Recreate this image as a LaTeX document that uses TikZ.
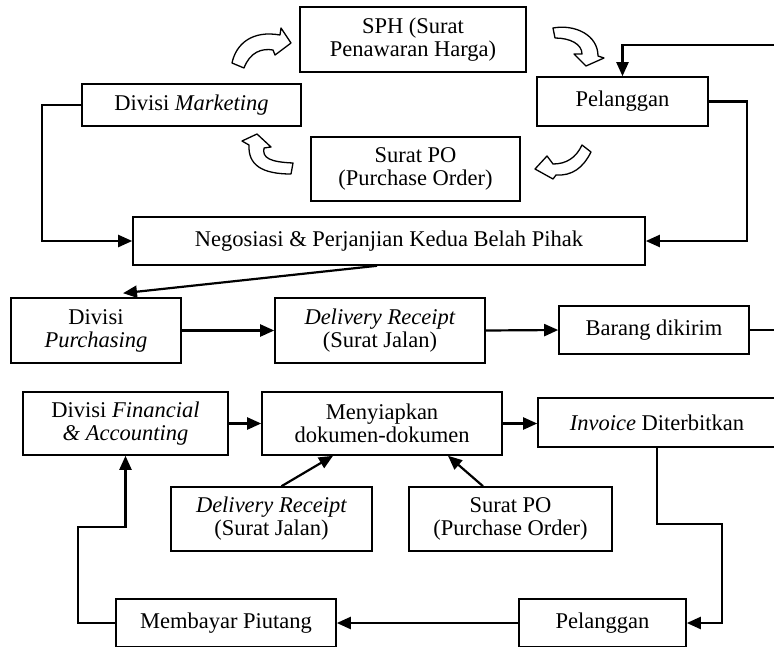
\documentclass[tikz,border=0pt]{standalone}
\usepackage{fontspec}
\setmainfont{Liberation Serif}
\usetikzlibrary{arrows.meta,calc}
\begin{document}
\begin{tikzpicture}[x=1pt,y=-1pt,
  box/.style={draw,line width=1.6pt,inner sep=0pt,align=center,
    font=\fontsize{22.5}{23}\selectfont},
  arr/.style={line width=2.2pt,-{Triangle[length=14pt,width=12pt]}},
  ln/.style={line width=2.2pt},
  blk/.style={draw,fill=white,line width=1.3pt,line join=round}]
\useasboundingbox (0,0) rectangle (774,646);
% nodes
\node[box,minimum width=226pt,minimum height=65pt] (sph) at (413,39.5) {SPH (Surat\\Penawaran Harga)};
\node[box,minimum width=219pt,minimum height=42pt] (mkt) at (191.5,105) {Divisi \textit{Marketing}};
\node[box,minimum width=171pt,minimum height=49pt] (pel1) at (622.5,101.5) {Pelanggan};
\node[box,minimum width=209pt,minimum height=64pt] (spo1) at (415.5,169) {Surat PO\\(Purchase Order)};
\node[box,minimum width=512pt,minimum height=48pt] (neg) at (389,241) {Negosiasi \& Perjanjian Kedua Belah Pihak};
\node[box,minimum width=170pt,minimum height=65pt] (pur) at (96,330.5) {Divisi\\\textit{Purchasing}};
\node[box,minimum width=210pt,minimum height=65pt] (dr1) at (380,330.5) {\textit{Delivery Receipt}\\(Surat Jalan)};
\node[box,minimum width=190pt,minimum height=48pt] (bar) at (654,330) {Barang dikirim};
\node[box,minimum width=205pt,minimum height=63pt] (fin) at (125.5,423.5) {Divisi \textit{Financial}\\\textit{\& Accounting}};
\node[box,minimum width=240pt,minimum height=63pt] (men) at (382,423.5) {Menyiapkan\\dokumen-dokumen};
\node[box,minimum width=238pt,minimum height=49pt] (inv) at (657,422.5) {\textit{Invoice} Diterbitkan};
\node[box,minimum width=201pt,minimum height=64pt] (dr2) at (271.5,519) {\textit{Delivery Receipt}\\(Surat Jalan)};
\node[box,minimum width=203pt,minimum height=64pt] (spo2) at (510.5,519) {Surat PO\\(Purchase Order)};
\node[box,minimum width=220pt,minimum height=48pt] (mem) at (226,623) {Membayar Piutang};
\node[box,minimum width=167pt,minimum height=48pt] (pel2) at (602.5,623) {Pelanggan};
\coordinate (e1) at (776,45);
\coordinate (e2) at (776,330);
% connectors
\draw[arr] (e1) -| (pel1.north);
\draw[arr] (pel1.east) -- ++(38,0) |- (neg.east);
\draw[arr] (mkt.west) -- ++(-39,0) |- (neg.west);
\draw[arr] ([xshift=-12pt]neg.south) -- ([xshift=27pt,yshift=4pt]pur.north);
\draw[arr] (pur.east) -- (dr1.west);
\draw[arr] (dr1.east) -- (bar.west);
\draw[ln] (bar.east) -- (e2);
\draw[arr] (fin.east) -- (men.west);
\draw[arr] (men.east) -- (men.east -| inv.west);
\draw[arr] ([xshift=10pt]dr2.north) -- ([xshift=-49pt]men.south);
\draw[arr] ([xshift=-27.5pt]spo2.north) -- ([xshift=66pt]men.south);
\draw[arr] (inv.south) -- ++(0,76) -- ++(65,0) |- (pel2.east);
\draw[arr] (pel2.west) -- (mem.east);
\draw[arr] (mem.west) -- ++(-37,0) -- ++(0,-96) -| (fin.south);
% block arrows
\draw[blk] (232,63) .. controls (236,44) and (252,30) .. (280,35) -- (281,28) -- (291,43) -- (275,55) -- (273,50) .. controls (262,48) and (250,52) .. (244,68) -- cycle;
\draw[blk] (553,28) .. controls (575,24) and (598,35) .. (598,56) -- (604,58) -- (586,66) -- (574,54) -- (582,54) .. controls (582,44) and (570,38) .. (555,38) -- cycle;
\draw[blk] (582,145) -- (591,152) .. controls (583,168) and (572,176) .. (556,175) -- (553,179) -- (535,169) -- (547,156) -- (553,164) .. controls (566,164) and (576,158) .. (582,145) -- cycle;
\draw[blk] (242,141) -- (257,134) -- (271,147) -- (264,148) .. controls (262,158) and (270,162) .. (293,163) -- (291,174) .. controls (262,174) and (248,165) .. (249,145) -- cycle;
\end{tikzpicture}
\end{document}
